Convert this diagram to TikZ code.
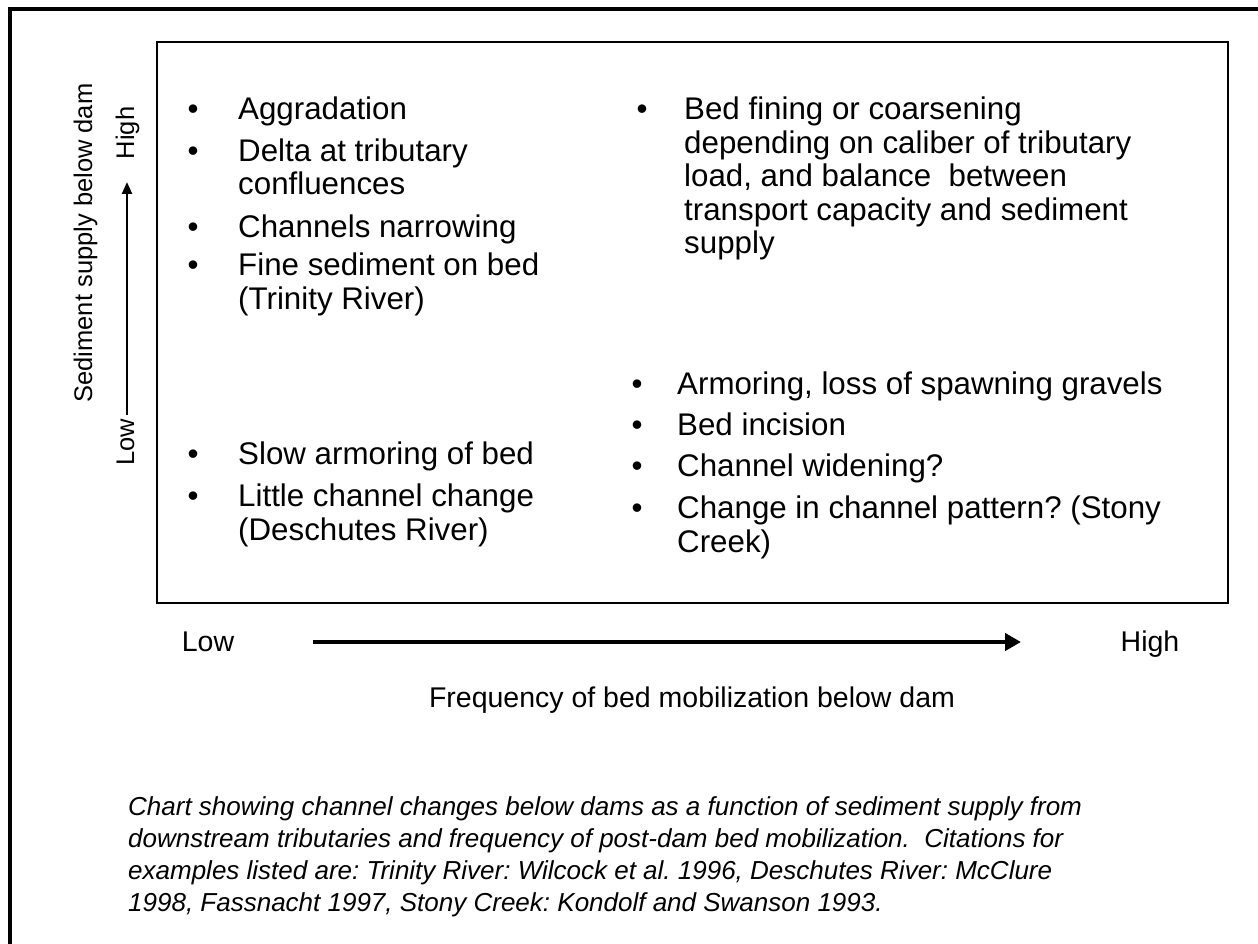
\documentclass[tikz,border=0pt]{standalone}
\usepackage{fontspec}
\setmainfont{Liberation Sans}
\usetikzlibrary{arrows.meta}
\frenchspacing
\begin{document}
\begin{tikzpicture}[x=1pt,y=-1pt,
  body/.style={font=\fontsize{31.3}{33}\selectfont, inner sep=0pt, anchor=base west},
  dot/.style={font=\fontsize{31.3}{33}\selectfont, inner sep=0pt, anchor=base west},
  axislabel/.style={font=\fontsize{28.5}{30}\selectfont, inner sep=0pt, anchor=base},
  sidelabel/.style={font=\fontsize{25.5}{30}\selectfont, inner sep=0pt, anchor=base},
  caption/.style={font=\fontsize{26}{32}\selectfont\itshape, inner sep=0pt, anchor=base west},
  frame/.style={line width=4pt},
  chartbox/.style={line width=2.5pt},
  ybar/.style={line width=2.5pt, -{Triangle[length=12pt,width=10pt]}},
  xbar/.style={line width=4.5pt, -{Triangle[length=16pt,width=17pt]}}]
\useasboundingbox (0,0) rectangle (1258,944);
\fill[white] (0,0) rectangle (1258,944);

% outer frame (left and top edges)
\draw[frame] (10,944) -- (10,9) -- (1258,9);

% chart area
\draw[chartbox] (157,42) rectangle (1228,603);

% high supply, low mobilization
\node[dot]  (b1) at (187.5,120) {•};
\node[body] (t1) at (238,120) {Aggradation};
\node[dot]  (b2) at (187.5,162) {•};
\node[body] (t2) at (238,162) {Delta at tributary};
\node[body] (t2b) at (238,195) {confluences};
\node[dot]  (b3) at (187.5,237) {•};
\node[body] (t3) at (238,237) {Channels narrowing};
\node[dot]  (b4) at (187.5,275) {•};
\node[body] (t4) at (238,275) {Fine sediment on bed};
\node[body] (t4b) at (238,309) {(Trinity River)};

% high supply, high mobilization
\node[dot]  (c1) at (636.5,120) {•};
\node[body] (u1) at (684,120) {Bed fining or coarsening};
\node[body] (u1b) at (684,153.5) {depending on caliber of tributary};
\node[body] (u1c) at (684,187) {load, and balance\ \ between};
\node[body] (u1d) at (684,220.5) {transport capacity and sediment};
\node[body] (u1e) at (684,254) {supply};

% low supply, low mobilization
\node[dot]  (d1) at (187.5,464) {•};
\node[body] (v1) at (238,464) {Slow armoring of bed};
\node[dot]  (d2) at (187.5,506) {•};
\node[body] (v2) at (238,506) {Little channel change};
\node[body] (v2b) at (238,540) {(Deschutes River)};

% low supply, high mobilization
\node[dot]  (e1) at (631.5,394) {•};
\node[body] (w1) at (677,394) {Armoring, loss of spawning gravels};
\node[dot]  (e2) at (631.5,435) {•};
\node[body] (w2) at (677,435) {Bed incision};
\node[dot]  (e3) at (631.5,476) {•};
\node[body] (w3) at (677,476) {Channel widening?};
\node[dot]  (e4) at (631.5,518) {•};
\node[body] (w4) at (677,518) {Change in channel pattern? (Stony};
\node[body] (w4b) at (677,552) {Creek)};

% vertical axis
\node[sidelabel, rotate=90] (ylab) at (92,243) {Sediment supply below dam};
\node[sidelabel, rotate=90] (ylow) at (134,442) {Low};
\node[sidelabel, rotate=90] (yhigh) at (134,133) {High};
\coordinate (ys) at (127,415);
\coordinate (ye) at (127,182);
\draw[ybar] (ys) -- (ye);

% horizontal axis
\node[axislabel] (xlow) at (208,651) {Low};
\node[axislabel] (xhigh) at (1150,651) {High};
\coordinate (xs) at (313,642);
\coordinate (xe) at (1021,642);
\draw[xbar] (xs) -- (xe);
\node[axislabel] (xlab) at (692,707) {Frequency of bed mobilization below dam};

% caption
\node[caption] (p1) at (128,815) {Chart showing channel changes below dams as a function of sediment supply from};
\node[caption] (p2) at (128,847) {downstream tributaries and frequency of post-dam bed mobilization.\ \ Citations for};
\node[caption] (p3) at (128,879) {examples listed are: Trinity River: Wilcock et al. 1996, Deschutes River: McClure};
\node[caption] (p4) at (128,911) {1998, Fassnacht 1997, Stony Creek: Kondolf and Swanson 1993.};
\end{tikzpicture}
\end{document}
